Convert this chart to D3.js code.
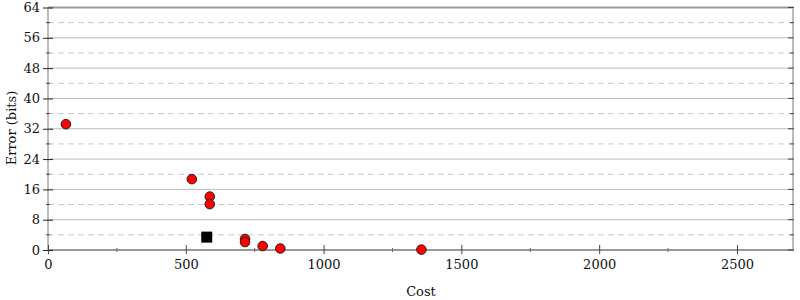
<!DOCTYPE html>
<html>
<head>
<meta charset="utf-8">
<script src="https://cdn.jsdelivr.net/npm/d3@7"></script>
<style>
  body { margin: 0; background: #fff; }
  text { font-family: "DejaVu Serif", serif; font-size: 13px; fill: #111; }
</style>
</head>
<body>
<svg width="800" height="300"></svg>
<script>
const width = 800;
const height = 300;
const margin = {top: 7.5, right: 6, bottom: 50, left: 48};

// points
const costs = [65, 522, 587, 587, 715, 715, 779, 843, 1355];
const errors = [33.2, 18.7, 14.1, 12.1, 2.9, 2.1, 1.05, 0.4, 0.1];
// the black square
const startCost = [576];
const startError = [3.4];

const xMajor = [0, 500, 1000, 1500, 2000, 2500];
const xMinor = [250, 750, 1250, 1750, 2250];
const yMajor = [0, 8, 16, 24, 32, 40, 48, 56, 64];
const yMinor = [4, 12, 20, 28, 36, 44, 52, 60];

const xScale = d3.scaleLinear()
    .domain([0, 2707])
    .range([margin.left, width - margin.right]);
const yScale = d3.scaleLinear()
    .domain([0, 64])
    .range([height - margin.bottom, margin.top]);

const svg = d3.select("svg");

// grid
svg.append("g")
  .selectAll("line")
  .data(yMinor)
  .enter()
  .append("line")
    .attr("x1", xScale(0)).attr("x2", xScale.range()[1])
    .attr("y1", d => yScale(d)).attr("y2", d => yScale(d))
    .attr("stroke", "#c8c8c8")
    .attr("stroke-dasharray", "6,4");
svg.append("g")
  .selectAll("line")
  .data(yMajor.filter(d => d > 0 && d < 64))
  .enter()
  .append("line")
    .attr("x1", xScale(0)).attr("x2", xScale.range()[1])
    .attr("y1", d => yScale(d)).attr("y2", d => yScale(d))
    .attr("stroke", "#bbb");

// frame
svg.append("line")
    .attr("x1", xScale(0)).attr("x2", xScale.range()[1])
    .attr("y1", yScale(64)).attr("y2", yScale(64))
    .attr("stroke", "#999").attr("stroke-width", 2);
svg.append("line")
    .attr("x1", xScale(0)).attr("x2", xScale(0))
    .attr("y1", yScale(0)).attr("y2", yScale(64))
    .attr("stroke", "#bbb").attr("stroke-width", 2);
svg.append("line")
    .attr("x1", xScale.range()[1] - 1).attr("x2", xScale.range()[1] - 1)
    .attr("y1", yScale(0)).attr("y2", yScale(64))
    .attr("stroke", "#bbb").attr("stroke-width", 2);
svg.append("line")
    .attr("x1", xScale(0)).attr("x2", xScale.range()[1])
    .attr("y1", yScale(0)).attr("y2", yScale(0))
    .attr("stroke", "#999").attr("stroke-width", 2);

// y axis (left), ticks crossing the line
const yAxis = d3.axisLeft(yScale)
    .tickValues(yMajor)
    .tickSize(5)
    .tickPadding(3)
    .tickFormat(d3.format("d"));
const gy = svg.append("g")
    .attr("transform", "translate(" + xScale(0) + ",0)")
    .call(yAxis);
gy.select(".domain").remove();
gy.selectAll(".tick line").attr("x2", -5).attr("x1", 5).attr("stroke", "#222");
gy.selectAll(".tick text").attr("x", -8).style("font-size", "13px");
svg.append("g")
  .selectAll("line")
  .data(yMinor)
  .enter()
  .append("line")
    .attr("x1", xScale(0) - 2).attr("x2", xScale(0) + 2)
    .attr("y1", d => yScale(d)).attr("y2", d => yScale(d))
    .attr("stroke", "#444");

// right ticks
svg.append("g")
  .selectAll("line")
  .data(yMajor)
  .enter()
  .append("line")
    .attr("x1", xScale.range()[1] - 6).attr("x2", xScale.range()[1])
    .attr("y1", d => yScale(d)).attr("y2", d => yScale(d))
    .attr("stroke", "#444");
svg.append("g")
  .selectAll("line")
  .data(yMinor)
  .enter()
  .append("line")
    .attr("x1", xScale.range()[1] - 4).attr("x2", xScale.range()[1])
    .attr("y1", d => yScale(d)).attr("y2", d => yScale(d))
    .attr("stroke", "#444");

// x axis
const xAxis = d3.axisBottom(xScale)
    .tickValues(xMajor)
    .tickSize(4)
    .tickPadding(6)
    .tickFormat(d3.format("d"));
const gx = svg.append("g")
    .attr("transform", "translate(0," + yScale(0) + ")")
    .call(xAxis);
gx.select(".domain").remove();
gx.selectAll(".tick line").attr("y1", -5).attr("y2", 4).attr("stroke", "#444");
gx.selectAll(".tick text").style("font-size", "13px");
svg.append("g")
  .selectAll("line")
  .data(xMinor)
  .enter()
  .append("line")
    .attr("x1", d => xScale(d)).attr("x2", d => xScale(d))
    .attr("y1", yScale(0) - 2).attr("y2", yScale(0) + 2)
    .attr("stroke", "#666");

// points
svg.append("g")
  .selectAll("circle")
  .data(costs.map((c, i) => [c, errors[i]]))
  .enter()
  .append("circle")
    .attr("cx", d => xScale(d[0]))
    .attr("cy", d => yScale(d[1]))
    .attr("r", 4.8)
    .attr("fill", "red")
    .attr("stroke", "#222")
    .attr("stroke-width", 1);

svg.append("g")
  .selectAll("rect")
  .data(startCost.map((c, i) => [c, startError[i]]))
  .enter()
  .append("rect")
    .attr("x", d => xScale(d[0]) - 5.5)
    .attr("y", d => yScale(d[1]) - 5.5)
    .attr("width", 11)
    .attr("height", 11)
    .attr("fill", "#000");

// labels
svg.append("text")
    .attr("x", (xScale(0) + xScale.range()[1]) / 2)
    .attr("y", 296)
    .style("text-anchor", "middle")
    .text("Cost");
svg.append("text")
    .attr("transform", "rotate(-90)")
    .attr("x", -128)
    .attr("y", 16)
    .style("text-anchor", "middle")
    .text("Error (bits)");
</script>
</body>
</html>
